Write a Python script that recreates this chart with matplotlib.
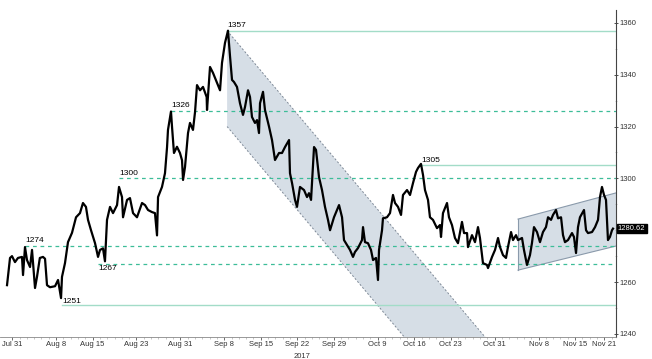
import numpy as np
import pandas as pd
import matplotlib
matplotlib.use('Agg')
import matplotlib.pyplot as plt
from matplotlib.ticker import MultipleLocator

plt.rcParams['font.family'] = ['Liberation Sans', 'DejaVu Sans']

# gold price path, trading days from Jul 31 2017 (0 = Jul 31) and price
t = [-0.71, -0.30, -0.03, 0.38, 0.79, 1.34, 1.48, 1.75, 2.02, 2.44, 2.71, 3.12, 3.39, 3.78, 4.21, 4.49,
     4.76, 5.17, 5.86, 6.27, 6.68, 6.81, 7.22, 7.63, 8.18, 8.73, 9.27, 9.68, 10.09, 10.37, 10.78, 11.33,
     11.74, 12.01, 12.42, 12.69, 12.97, 13.38, 13.79, 14.34, 14.61, 15.02, 15.16, 15.71, 16.11, 16.53,
     17.07, 17.76, 18.17, 18.58, 19.12, 19.53, 19.81, 19.95, 20.49, 20.90, 21.18, 21.31, 21.72, 21.86,
     22.13, 22.54, 22.95, 23.23, 23.37, 23.64, 24.05, 24.32, 24.73, 25.01, 25.28, 25.69, 26.10, 26.60,
     26.65, 27.06, 27.47, 28.02, 28.43, 28.70, 29.11, 29.52, 29.80, 30.07, 30.34, 30.75, 31.16, 31.57,
     31.85, 32.26, 32.53, 32.80, 33.21, 33.49, 33.76, 33.90, 34.31, 34.58, 35.13, 35.54, 35.95, 36.50,
     36.91, 37.32, 37.87, 38.00, 38.28, 38.69, 38.96, 39.37, 39.92, 40.33, 40.60, 40.88, 41.29, 41.56,
     41.97, 42.38, 42.79, 43.20, 43.48, 44.02, 44.43, 44.71, 45.12, 45.39, 45.80, 46.21, 46.62, 46.89,
     47.30, 47.85, 47.99, 48.26, 48.67, 49.08, 49.36, 49.77, 50.04, 50.18, 50.59, 50.72, 51.27, 51.68,
     52.09, 52.37, 52.78, 53.19, 53.46, 54.01, 54.42, 54.83, 55.24, 55.51, 55.92, 56.20, 56.47, 56.88,
     57.15, 57.56, 58.11, 58.52, 58.66, 58.93, 59.48, 59.75, 60.16, 60.57, 60.98, 61.53, 61.81, 62.22,
     62.35, 62.90, 63.31, 63.72, 63.99, 64.40, 64.95, 65.09, 65.64, 66.05, 66.46, 66.73, 67.14, 67.55,
     67.82, 68.24, 68.51, 68.92, 69.19, 69.74, 70.01, 70.42, 70.83, 71.10, 71.38, 71.79, 72.20, 72.61,
     73.02, 73.30, 73.71, 73.98, 74.39, 74.67, 75.08, 75.35, 75.62, 76.03, 76.58, 76.85, 77.13, 77.40,
     77.67, 78.22, 78.50, 78.77, 79.32, 79.73, 80.14, 80.41, 80.68, 80.96, 81.23, 81.37, 81.50, 81.77,
     82.05, 82.19]
price = [1258.8, 1269.3, 1270.0, 1267.7, 1269.3, 1269.7, 1262.7, 1273.5, 1268.5, 1265.8, 1272.4, 1257.7,
         1262.0, 1269.3, 1269.7, 1269.0, 1258.8, 1258.0, 1258.4, 1260.8, 1253.8, 1262.0, 1267.3, 1275.4,
         1279.0, 1285.0, 1286.6, 1290.5, 1289.0, 1284.0, 1280.0, 1275.0, 1269.7, 1272.4, 1273.0, 1268.0,
         1284.0, 1289.0, 1286.6, 1289.7, 1296.7, 1292.8, 1285.0, 1291.7, 1292.4, 1286.6, 1285.0, 1290.5,
         1289.7, 1287.8, 1287.0, 1286.6, 1278.0, 1292.8, 1296.7, 1302.0, 1312.0, 1318.7, 1325.8, 1320.0,
         1309.8, 1312.2, 1309.8, 1307.0, 1299.4, 1304.4, 1317.5, 1321.4, 1318.7, 1325.6, 1336.0, 1334.0,
         1335.3, 1331.4, 1326.4, 1343.0, 1340.7, 1336.8, 1334.0, 1344.6, 1352.3, 1357.0, 1347.0, 1338.0,
         1337.2, 1335.3, 1329.0, 1324.5, 1327.6, 1334.0, 1331.4, 1323.7, 1321.4, 1322.5, 1317.5, 1329.0,
         1333.4, 1326.4, 1320.0, 1314.8, 1307.1, 1309.8, 1309.8, 1312.1, 1314.8, 1302.0, 1298.2, 1291.7,
         1289.0, 1296.7, 1295.5, 1292.8, 1294.3, 1291.7, 1312.1, 1311.0, 1300.5, 1295.5, 1289.0, 1284.0,
         1280.0, 1285.0, 1287.8, 1289.7, 1285.0, 1276.2, 1274.3, 1272.4, 1269.7, 1271.6, 1273.1, 1276.2,
         1281.2, 1275.4, 1275.0, 1272.4, 1268.5, 1269.3, 1260.8, 1272.4, 1280.0, 1284.6, 1285.0, 1286.6,
         1293.6, 1290.5, 1289.0, 1285.9, 1293.6, 1295.5, 1293.6, 1298.2, 1302.5, 1304.0, 1305.6, 1301.3,
         1295.5, 1291.7, 1285.0, 1284.0, 1280.8, 1282.0, 1277.4, 1286.6, 1290.5, 1285.0, 1282.0, 1277.0,
         1275.0, 1283.2, 1278.9, 1278.9, 1273.5, 1278.1, 1275.4, 1281.2, 1277.0, 1267.3, 1266.6, 1265.4,
         1269.7, 1272.4, 1277.0, 1273.5, 1270.4, 1269.3, 1273.5, 1279.3, 1276.2, 1278.1, 1276.2, 1277.0,
         1272.4, 1266.6, 1270.4, 1275.0, 1281.2, 1279.3, 1275.4, 1279.3, 1281.2, 1285.0, 1284.0, 1285.9,
         1287.8, 1284.6, 1285.0, 1278.1, 1275.4, 1276.2, 1278.9, 1277.4, 1271.2, 1281.2, 1285.0, 1287.8,
         1280.0, 1278.9, 1279.3, 1281.2, 1284.0, 1292.8, 1296.7, 1293.6, 1291.7, 1284.0, 1276.2, 1277.4,
         1280.0, 1280.62]

# support / resistance levels: (value, start day, style)
levels = [1357, 1326, 1305, 1300, 1274, 1267, 1251]
level_start = [29.45, 21.72, 55.92, 14.61, 1.75, 11.74, 6.75]
level_solid = [True, False, True, False, False, False, True]
label_pos = ['above', 'above', 'above', 'above', 'above', 'below', 'right']

# descending channel: start day, upper start, lower start, slope per day
down_t0, down_hi, down_lo, down_slope = 29.4, 1357.0, 1320.0, -3.35
# ascending channel: start day, end day, lower/upper at start and end
up_t = [69.2, 82.6]
up_lo = [1264.6, 1273.9]
up_hi = [1284.3, 1294.4]

last_price = 1280.62

tick_dates = ['2017-07-31', '2017-08-08', '2017-08-15', '2017-08-23', '2017-08-31', '2017-09-08',
              '2017-09-15', '2017-09-22', '2017-09-29', '2017-10-09', '2017-10-16', '2017-10-23',
              '2017-10-31', '2017-11-08', '2017-11-15', '2017-11-21']
y_ticks = [1240, 1260, 1300, 1320, 1340, 1360]
days = pd.bdate_range('2017-07-31', '2017-11-24')

dash_col = '#3dbd98'
solid_col = '#a3dcc8'
fill_col = '#d6dee6'

fig = plt.figure(figsize=(6.52, 3.59), dpi=100)
ax = fig.add_axes([0.0, 0.0613, 0.9448, 0.911])
xmin, xmax = -1.67, 82.6
ymin, ymax = 1238.8, 1365.0
ax.set_xlim(xmin, xmax)
ax.set_ylim(ymin, ymax)

# descending channel
tt = np.array([down_t0, xmax + 30])
hi = down_hi + down_slope * (tt - down_t0)
lo = down_lo + down_slope * (tt - down_t0)
ax.fill([tt[0], tt[1], tt[1], tt[0]], [hi[0], hi[1], lo[1], lo[0]], color=fill_col, lw=0, zorder=1)
ax.plot(tt, hi, color='#7d8896', lw=0.7, ls=(0, (2, 2)), zorder=2)
ax.plot(tt, lo, color='#7d8896', lw=0.7, ls=(0, (2, 2)), zorder=2)

# ascending channel
ax.fill([up_t[0], up_t[1], up_t[1], up_t[0]], [up_lo[0], up_lo[1], up_hi[1], up_hi[0]],
        color=fill_col, lw=0, zorder=1)
ax.plot(up_t, up_hi, color='#8a9aab', lw=0.8, zorder=2)
ax.plot(up_t, up_lo, color='#8a9aab', lw=0.8, zorder=2)
ax.plot([up_t[0], up_t[0]], [up_lo[0], up_hi[0]], color='#8a9aab', lw=0.8, zorder=2)

for v, s, solid, pos in zip(levels, level_start, level_solid, label_pos):
    if solid:
        ax.plot([s, xmax], [v, v], color=solid_col, lw=1.0, zorder=2)
    else:
        ax.plot([s, xmax], [v, v], color=dash_col, lw=0.9, ls=(0, (3, 3)), zorder=2)
    if pos == 'above':
        ax.text(s, v + 0.6, str(v), fontsize=6, va='bottom', ha='left', zorder=5)
    elif pos == 'below':
        ax.text(s, v - 0.6, str(v), fontsize=6, va='top', ha='left', zorder=5)
    else:
        ax.text(s + 0.1, v + 0.3, str(v), fontsize=6, va='bottom', ha='left', zorder=5)

ax.plot(t, price, color='black', lw=1.6, zorder=4)

# axes styling
for sp in ['left', 'top']:
    ax.spines[sp].set_visible(False)
ax.spines['right'].set_color('#444444')
ax.spines['bottom'].set_color('#888888')
ax.spines['right'].set_linewidth(0.8)
ax.spines['bottom'].set_linewidth(0.6)

ax.yaxis.tick_right()
ax.set_yticks(y_ticks)
ax.yaxis.set_minor_locator(MultipleLocator(10))
ax.tick_params(axis='y', which='major', direction='inout', length=3, width=0.6, labelsize=5.5,
               pad=1, colors='#333333')
ax.tick_params(axis='y', which='minor', direction='inout', length=2, width=0.4, colors='#999999')

pos_of = {d: i for i, d in enumerate(days)}
tick_idx = [pos_of[pd.Timestamp(d)] for d in tick_dates]
tick_lab = [pd.Timestamp(d).strftime('%b %-d') for d in tick_dates]
ax.set_xticks(tick_idx)
ax.set_xticklabels(tick_lab)
ax.set_xticks(np.arange(0, 83), minor=True)
ax.tick_params(axis='x', which='major', direction='out', length=2, width=0.5, labelsize=5.5, pad=1,
               colors='#333333')
ax.tick_params(axis='x', which='minor', direction='out', length=1.5, width=0.4, colors='#999999')
ax.text(pos_of[pd.Timestamp('2017-09-22')] + 0.7, -0.048, '2017', transform=ax.get_xaxis_transform(),
        fontsize=5.5, ha='center', va='top', color='#333333')

ax.text(1.003, (last_price - ymin) / (ymax - ymin), '%.2f' % last_price, transform=ax.transAxes,
        fontsize=5.5, color='white', ha='left', va='center',
        bbox=dict(boxstyle='square,pad=0.15', fc='black', ec='black'), zorder=6)

fig.savefig('out.png', dpi=100)
